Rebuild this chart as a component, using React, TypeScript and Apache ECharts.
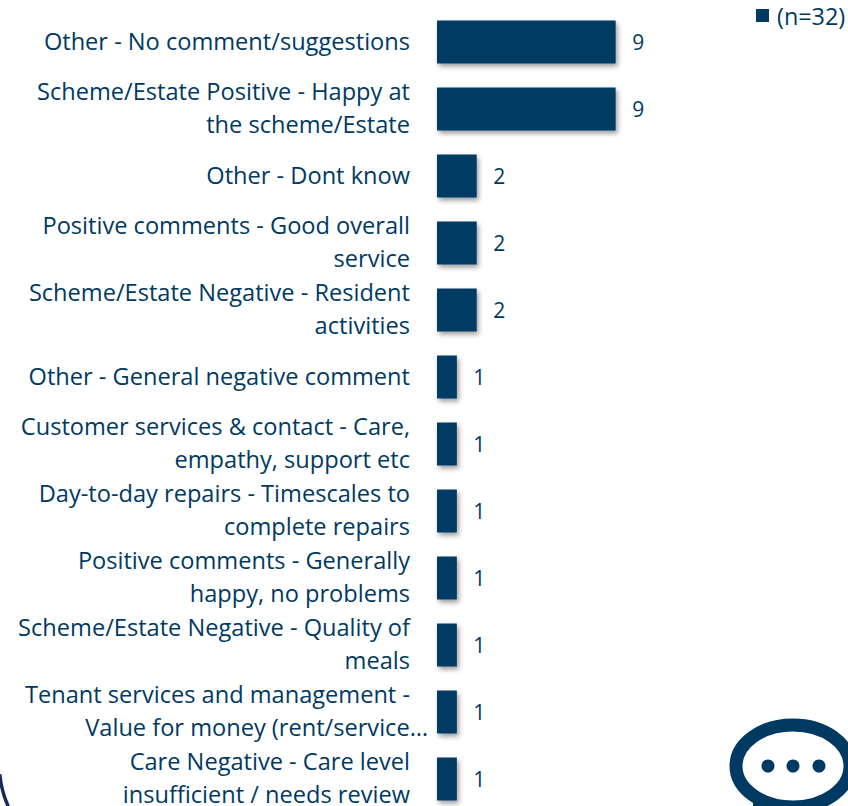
import React, { useEffect, useRef } from "react";
import * as echarts from "echarts";

const categories = [
  "Other - No comment/suggestions",
  "Scheme/Estate Positive - Happy at\nthe scheme/Estate",
  "Other - Dont know",
  "Positive comments - Good overall\nservice",
  "Scheme/Estate Negative - Resident\nactivities",
  "Other - General negative comment",
  "Customer services & contact - Care,\nempathy, support etc",
  "Day-to-day repairs - Timescales to\ncomplete repairs",
  "Positive comments - Generally\nhappy, no problems",
  "Scheme/Estate Negative - Quality of\nmeals",
  "Tenant services and management -\nValue for money (rent/service…",
  "Care Negative - Care level\ninsufficient / needs review",
];
const values = [9, 9, 2, 2, 2, 1, 1, 1, 1, 1, 1, 1];
const seriesName = "(n=32)";
const NAVY = "#003a63";
const FONT = "'Open Sans', sans-serif";

const lineStyle = { fontFamily: FONT, fontSize: 23.6, lineHeight: 32.5, color: NAVY };

export default function App() {
  const ref = useRef<HTMLDivElement>(null);
  useEffect(() => {
    document.body.style.margin = "0";
    const chart = echarts.init(ref.current!, undefined, { renderer: "svg" });
    chart.setOption({
      animation: false,
      backgroundColor: "#ffffff",
      grid: { left: 437, top: 8.5, width: 357.3, height: 804, outerBoundsMode: "none" },
      legend: {
        show: true,
        left: 756,
        top: 4,
        padding: 0,
        itemWidth: 13,
        itemHeight: 13,
        itemGap: 0,
        icon: "rect",
        textStyle: { fontFamily: FONT, fontSize: 23.4, color: NAVY, padding: [0, 0, 0, 3] },
        data: [seriesName],
      },
      xAxis: { type: "value", min: 0, max: 18, show: false },
      yAxis: {
        type: "category",
        inverse: true,
        data: categories,
        axisLine: { show: false },
        axisTick: { show: false },
        axisLabel: {
          interval: 0,
          margin: 9,
          align: "right",
          ...lineStyle,
          padding: [0, 0, 3, 0],
          formatter: (v: string) =>
            v
              .split("\n")
              .map((l) => (l.endsWith("…") ? `{e|${l}}` : `{n|${l}}`))
              .join("\n"),
          rich: {
            n: { ...lineStyle, padding: [0, 18, 0, 0] },
            e: { ...lineStyle },
          },
        },
      },
      series: [
        {
          type: "bar",
          name: seriesName,
          data: values,
          barWidth: 43,
          itemStyle: {
            color: NAVY,
            shadowColor: "rgba(0,0,0,0.38)",
            shadowBlur: 5,
            shadowOffsetX: 2,
            shadowOffsetY: 3,
          },
          label: {
            show: true,
            position: "right",
            distance: 16.5,
            fontFamily: FONT,
            fontSize: 21,
            color: NAVY,
          },
        },
      ],
      graphic: [
        {
          type: "ellipse",
          shape: { cx: 793, cy: 766, rx: 57, ry: 41 },
          style: { fill: "none", stroke: NAVY, lineWidth: 13 },
        },
        { type: "polygon", shape: { points: [[753, 803], [790, 803], [790, 806], [753, 806]] }, style: { fill: NAVY } },
        { type: "circle", shape: { cx: 768, cy: 766, r: 6.5 }, style: { fill: NAVY } },
        { type: "circle", shape: { cx: 793, cy: 766, r: 6.5 }, style: { fill: NAVY } },
        { type: "circle", shape: { cx: 819, cy: 766, r: 6.5 }, style: { fill: NAVY } },
        {
          type: "arc",
          shape: { cx: 100, cy: 765, r: 100.7, startAngle: 2.6, endAngle: 3.05, clockwise: true },
          style: { fill: "none", stroke: "#1b2a5e", lineWidth: 3.5 },
        },
      ],
    });
    return () => chart.dispose();
  }, []);
  return <div ref={ref} style={{ width: 848, height: 806 }} />;
}
